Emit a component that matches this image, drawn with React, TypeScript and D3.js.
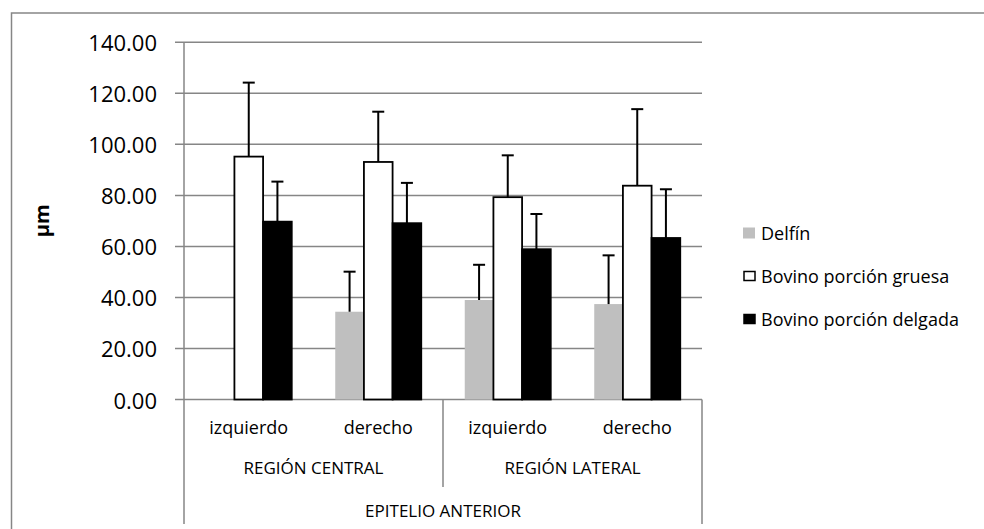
import React from "react";
import * as d3 from "d3";

const categories = ["izquierdo", "derecho", "izquierdo", "derecho"];
const regions = ["REGIÓN CENTRAL", "REGIÓN LATERAL"];
const topGroup = "EPITELIO ANTERIOR";
const seriesNames = ["Delfín", "Bovino porción gruesa", "Bovino porción delgada"];
const delfin = [0, 34.4, 39.0, 37.4];
const delfinErr = [0, 15.7, 13.8, 19.1];
const gruesa = [95.2, 93.1, 79.3, 83.8];
const gruesaErr = [29.0, 19.7, 16.4, 30.0];
const delgada = [69.7, 69.1, 58.9, 63.3];
const delgadaErr = [15.7, 15.8, 13.8, 19.1];
const yTicks = [0, 20, 40, 60, 80, 100, 120, 140];
const yTitle = "µm";

const fills = ["#bfbfbf", "#ffffff", "#000000"];
const strokes = ["none", "#000000", "#000000"];
const FONT = "'Open Sans', sans-serif";
const GRID = "#868686";

export default function App() {
  const W = 984;
  const H = 529;
  const left = 184;
  const right = 702;
  const y = d3.scaleLinear().domain([0, 140]).range([399.5, 42.3]);
  const x = d3.scaleBand<number>().domain(d3.range(categories.length)).range([left, right]);
  const groupW = 86;
  const xs = d3
    .scaleBand<number>()
    .domain(d3.range(seriesNames.length))
    .range([-groupW / 2, groupW / 2]);
  const values = [delfin, gruesa, delgada];
  const errs = [delfinErr, gruesaErr, delgadaErr];
  const y0 = y(0);
  const regionW = (right - left) / regions.length;
  const legendY = [233, 276, 319];

  return (
    <svg
      width={W}
      height={H}
      style={{ position: "absolute", left: 0, top: 0, background: "#fff" }}
    >
      <rect x={11.5} y={13} width={1200} height={800} fill="#fff" stroke={GRID} strokeWidth={1.5} />

      {/* gridlines and y tick labels */}
      {yTicks.map((t) => (
        <g key={t}>
          <line x1={175} x2={right} y1={y(t)} y2={y(t)} stroke={GRID} strokeWidth={1.5} />
          <text
            x={157}
            y={y(t)}
            textAnchor="end"
            dominantBaseline="central"
            fontFamily={FONT}
            fontSize={22}
            fill="#000"
          >
            {t.toFixed(2)}
          </text>
        </g>
      ))}

      {/* axis lines and category separators */}
      <line x1={left} x2={left} y1={y(140)} y2={524} stroke={GRID} strokeWidth={1.5} />
      <line x1={right} x2={right} y1={y0} y2={524} stroke={GRID} strokeWidth={1.5} />
      {d3.range(1, regions.length).map((i) => (
        <line
          key={i}
          x1={left + i * regionW}
          x2={left + i * regionW}
          y1={y0}
          y2={487}
          stroke={GRID}
          strokeWidth={1.5}
        />
      ))}

      {/* bars */}
      {values.map((vals, s) =>
        vals.map((v, i) => {
          if (v <= 0) return null;
          const cx = (x(i) as number) + x.bandwidth() / 2;
          const bx = cx + (xs(s) as number);
          return (
            <rect
              key={`b${s}-${i}`}
              x={bx}
              y={y(v)}
              width={xs.bandwidth()}
              height={y0 - y(v)}
              fill={fills[s]}
              stroke={strokes[s]}
              strokeWidth={strokes[s] === "none" ? 0 : 1.8}
            />
          );
        })
      )}

      {/* error bars */}
      {values.map((vals, s) =>
        vals.map((v, i) => {
          if (v <= 0) return null;
          const cx = (x(i) as number) + x.bandwidth() / 2 + (xs(s) as number) + xs.bandwidth() / 2;
          const top = y(v + errs[s][i]);
          return (
            <g key={`e${s}-${i}`} stroke="#000" strokeWidth={2}>
              <line x1={cx} x2={cx} y1={y(v)} y2={top} />
              <line x1={cx - 6} x2={cx + 6} y1={top} y2={top} />
            </g>
          );
        })
      )}

      {/* category labels */}
      {categories.map((c, i) => (
        <text
          key={`c${i}`}
          x={(x(i) as number) + x.bandwidth() / 2}
          y={427}
          textAnchor="middle"
          dominantBaseline="central"
          fontFamily={FONT}
          fontSize={18}
        >
          {c}
        </text>
      ))}
      {regions.map((r, i) => (
        <text
          key={`r${i}`}
          x={left + regionW * (i + 0.5)}
          y={467}
          textAnchor="middle"
          dominantBaseline="central"
          fontFamily={FONT}
          fontSize={17}
        >
          {r}
        </text>
      ))}
      <text
        x={(left + right) / 2}
        y={510}
        textAnchor="middle"
        dominantBaseline="central"
        fontFamily={FONT}
        fontSize={17}
      >
        {topGroup}
      </text>

      {/* y axis title */}
      <text
        transform={`translate(41,${(y(0) + y(140)) / 2}) rotate(-90)`}
        textAnchor="middle"
        dominantBaseline="central"
        fontFamily={FONT}
        fontWeight="bold"
        fontSize={20}
      >
        {yTitle}
      </text>

      {/* legend */}
      {seriesNames.map((n, s) => (
        <g key={`l${s}`}>
          <rect
            x={s === 0 ? 743 : 744}
            y={legendY[s] - (s === 0 ? 5.5 : 4.5)}
            width={s === 0 ? 12 : 11}
            height={s === 0 ? 11 : 9}
            fill={fills[s]}
            stroke={strokes[s]}
            strokeWidth={strokes[s] === "none" ? 0 : 1.5}
          />
          <text
            x={761}
            y={legendY[s]}
            dominantBaseline="central"
            fontFamily={FONT}
            fontSize={18}
          >
            {n}
          </text>
        </g>
      ))}
    </svg>
  );
}
